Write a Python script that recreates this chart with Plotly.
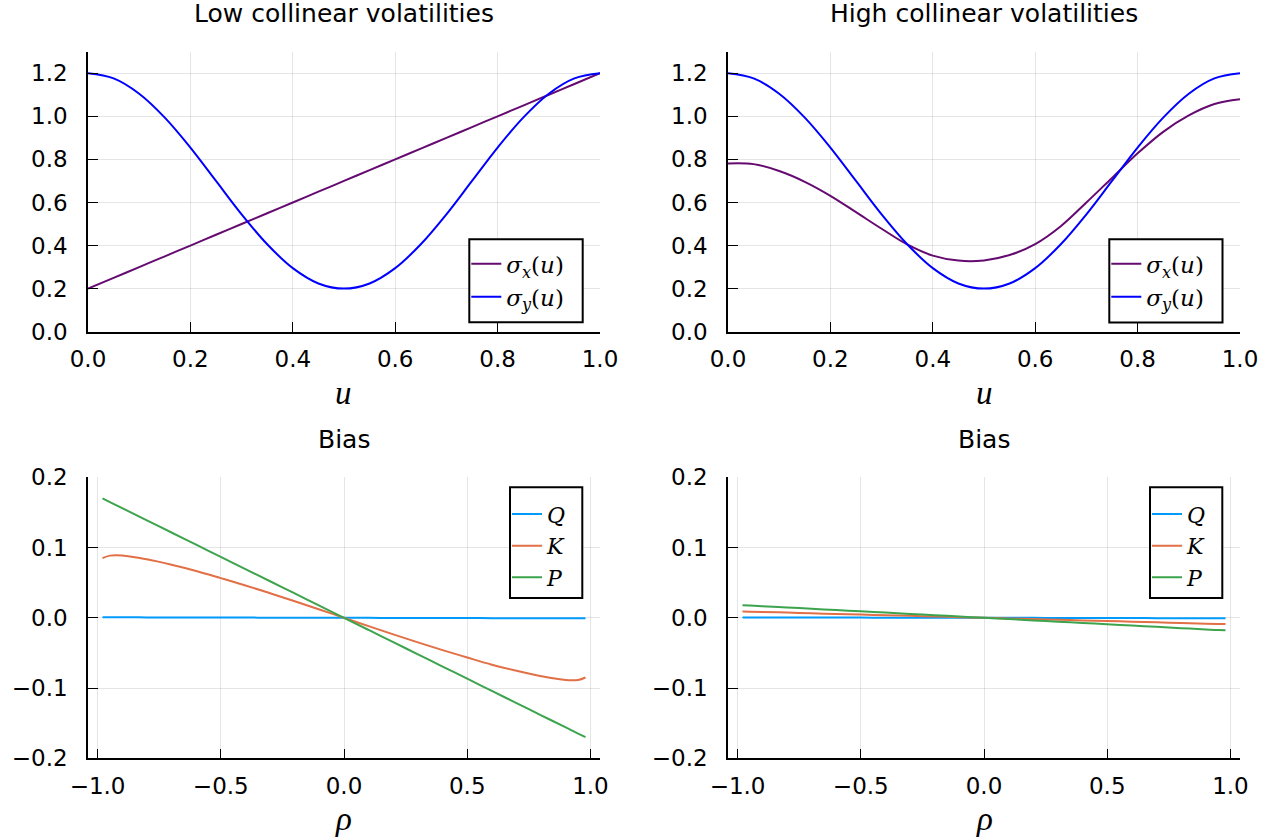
import plotly.graph_objects as go

# ---- volatility profiles over u in [0, 1] ----
u = [0.00, 0.05, 0.10, 0.15, 0.20, 0.25, 0.30, 0.35, 0.40, 0.45, 0.50,
     0.55, 0.60, 0.65, 0.70, 0.75, 0.80, 0.85, 0.90, 0.95, 1.00]

sigma_y = [1.200, 1.176, 1.105, 0.994, 0.855, 0.700, 0.545, 0.406, 0.295, 0.224, 0.200,
           0.224, 0.295, 0.406, 0.545, 0.700, 0.855, 0.994, 1.105, 1.176, 1.200]

sigma_x_low = [0.20, 0.25, 0.30, 0.35, 0.40, 0.45, 0.50, 0.55, 0.60, 0.65, 0.70,
               0.75, 0.80, 0.85, 0.90, 0.95, 1.00, 1.05, 1.10, 1.15, 1.20]

sigma_x_high = [0.781, 0.778, 0.746, 0.696, 0.631, 0.555, 0.478, 0.405, 0.353, 0.330, 0.331,
                0.356, 0.407, 0.490, 0.600, 0.714, 0.828, 0.928, 1.004, 1.057, 1.079]

# ---- bias as a function of correlation rho ----
rho = [-0.98, -0.95, -0.90, -0.80, -0.70, -0.60, -0.50, -0.40, -0.30, -0.20, -0.10, 0.00,
       0.10, 0.20, 0.30, 0.40, 0.50, 0.60, 0.70, 0.80, 0.90, 0.95, 0.98]

bias_low_Q = [0.0008, 0.0008, 0.0007, 0.0006, 0.0006, 0.0005, 0.0004, 0.0003, 0.0002, 0.0002, 0.0001, 0.0,
              -0.0001, -0.0002, -0.0002, -0.0003, -0.0004, -0.0005, -0.0006, -0.0006, -0.0007, -0.0008, -0.0008]
bias_low_K = [0.0850, 0.0885, 0.0887, 0.0832, 0.0755, 0.0667, 0.0565, 0.0460, 0.0350, 0.0236, 0.0119, 0.0,
              -0.0119, -0.0236, -0.0350, -0.0460, -0.0565, -0.0667, -0.0755, -0.0832, -0.0887, -0.0885, -0.0850]
bias_low_P = [0.1700, 0.1648, 0.1561, 0.1388, 0.1214, 0.1041, 0.0867, 0.0694, 0.0520, 0.0347, 0.0173, 0.0,
              -0.0173, -0.0347, -0.0520, -0.0694, -0.0867, -0.1041, -0.1214, -0.1388, -0.1561, -0.1648, -0.1700]

bias_high_Q = [0.0006, 0.0006, 0.0006, 0.0005, 0.0004, 0.0004, 0.0003, 0.0002, 0.0002, 0.0001, 0.0001, 0.0,
               -0.0001, -0.0001, -0.0002, -0.0003, -0.0003, -0.0004, -0.0005, -0.0006, -0.0006, -0.0007, -0.0007]
bias_high_K = [0.0090, 0.0087, 0.0083, 0.0074, 0.0064, 0.0055, 0.0046, 0.0037, 0.0028, 0.0018, 0.0009, 0.0,
               -0.0009, -0.0018, -0.0028, -0.0037, -0.0046, -0.0055, -0.0064, -0.0074, -0.0083, -0.0087, -0.0090]
bias_high_P = [0.0180, 0.0175, 0.0166, 0.0147, 0.0129, 0.0110, 0.0092, 0.0074, 0.0055, 0.0037, 0.0018, 0.0,
               -0.0018, -0.0037, -0.0055, -0.0074, -0.0092, -0.0110, -0.0129, -0.0147, -0.0166, -0.0175, -0.0178]

vol_ticks = [0.0, 0.2, 0.4, 0.6, 0.8, 1.0, 1.2]
u_ticks = [0.0, 0.2, 0.4, 0.6, 0.8, 1.0]
bias_ticks = [-0.2, -0.1, 0.0, 0.1, 0.2]
rho_ticks = [-1.0, -0.5, 0.0, 0.5, 1.0]

titles = ["Low collinear volatilities", "High collinear volatilities", "Bias", "Bias"]

# ---- styling ----
W, H = 1275, 838
PURPLE = "#650a70"
BLUE = "#0000ff"
C_Q, C_K, C_P = "#009afa", "#e26f46", "#3da44d"
SANS = "DejaVu Sans"
SERIF = "Liberation Serif"
MATH = "DejaVu Serif"
LW = 2.0


def px(x):
    return x / W


def py(y):
    return 1 - y / H


# plot areas in pixels: (left, right), (top, bottom)
cols = [(88, 600), (728, 1240)]
rows = [(51.7, 331.7), (477.3, 758.3)]

fig = go.Figure()


def line(x, y, name, color, xa, ya, legend):
    fig.add_trace(go.Scatter(
        x=x, y=y, name=name, mode="lines",
        line=dict(color=color, width=LW, shape="spline", smoothing=1.0),
        xaxis=xa, yaxis=ya, legend=legend, hoverinfo="skip"))


sx_name = "<i>σ<sub>x</sub></i>(<i>u</i>)"
sy_name = "<i>σ<sub>y</sub></i>(<i>u</i>)"

line(u, sigma_x_low, sx_name, PURPLE, "x", "y", "legend")
line(u, sigma_y, sy_name, BLUE, "x", "y", "legend")
line(u, sigma_x_high, sx_name, PURPLE, "x2", "y2", "legend2")
line(u, sigma_y, sy_name, BLUE, "x2", "y2", "legend2")
line(rho, bias_low_Q, "<i>Q</i>", C_Q, "x3", "y3", "legend3")
line(rho, bias_low_K, "<i>K</i>", C_K, "x3", "y3", "legend3")
line(rho, bias_low_P, "<i>P</i>", C_P, "x3", "y3", "legend3")
line(rho, bias_high_Q, "<i>Q</i>", C_Q, "x4", "y4", "legend4")
line(rho, bias_high_K, "<i>K</i>", C_K, "x4", "y4", "legend4")
line(rho, bias_high_P, "<i>P</i>", C_P, "x4", "y4", "legend4")

axis_common = dict(
    showline=True, linecolor="black", linewidth=1.6, mirror=False,
    ticks="inside", ticklen=10, tickwidth=1.3, tickcolor="black",
    showgrid=True, gridcolor="rgba(0,0,0,0.1)", gridwidth=1,
    zeroline=False, automargin=False,
    tickfont=dict(family=SANS, size=23, color="black"),
)

layout = dict(
    width=W, height=H, autosize=False,
    margin=dict(l=0, r=0, t=0, b=0, autoexpand=False),
    paper_bgcolor="white", plot_bgcolor="white",
    showlegend=True,
)

panels = [
    ("xaxis", "yaxis", cols[0], rows[0], [0, 1], [0, 1.3], u_ticks, vol_ticks),
    ("xaxis2", "yaxis2", cols[1], rows[0], [0, 1], [0, 1.3], u_ticks, vol_ticks),
    ("xaxis3", "yaxis3", cols[0], rows[1], [-1.0388, 1.0388], [-0.2, 0.2], rho_ticks, bias_ticks),
    ("xaxis4", "yaxis4", cols[1], rows[1], [-1.0388, 1.0388], [-0.2, 0.2], rho_ticks, bias_ticks),
]
for i, (xk, yk, (l, r), (t, b), xr, yr, xt, yt) in enumerate(panels):
    suffix = "" if i == 0 else str(i + 1)
    layout[xk] = dict(axis_common, domain=[px(l), px(r)], range=xr, tickvals=xt,
                      tickformat=".1f", anchor="y" + suffix, ticklabelstandoff=6)
    layout[yk] = dict(axis_common, domain=[py(b), py(t)], range=yr, tickvals=yt,
                      tickformat=".1f", anchor="x" + suffix, ticklabelstandoff=14)

# legends: transparent, drawn on top of framed boxes
legend_boxes = [
    ("legend", (469.3, 582.7), (239.3, 322.3), 23, 3),
    ("legend2", (1109.3, 1222.5), (239.3, 322.5), 23, 3),
    ("legend3", (510.0, 582.3), (487.3, 598.0), 22, 6),
    ("legend4", (1150.0, 1222.3), (487.3, 598.0), 22, 6),
]
shapes = []
for key, (bl, br), (bt, bb), fsize, pad in legend_boxes:
    shapes.append(dict(type="rect", xref="paper", yref="paper",
                       x0=px(bl), x1=px(br), y0=py(bb), y1=py(bt),
                       line=dict(color="black", width=2), fillcolor="white", layer="above"))
    layout[key] = dict(
        x=px(bl - 3), y=py(bt + pad), xanchor="left", yanchor="top",
        bgcolor="rgba(0,0,0,0)", borderwidth=0,
        font=dict(family=MATH, size=fsize, color="black"),
        tracegroupgap=0,
    )
layout["shapes"] = shapes

annotations = []
for i, ((l, r), (t, b)) in enumerate([(cols[0], rows[0]), (cols[1], rows[0]),
                                        (cols[0], rows[1]), (cols[1], rows[1])]):
    annotations.append(dict(text=titles[i], xref="paper", yref="paper",
                            x=px((l + r) / 2), y=py(t - 38), xanchor="center", yanchor="middle",
                            showarrow=False, font=dict(family=SANS, size=25, color="black")))
    label = "<i>u</i>" if i < 2 else "<i>ρ</i>"
    annotations.append(dict(text=label, xref="paper", yref="paper",
                            x=px((l + r) / 2), y=py(b + 61), xanchor="center", yanchor="middle",
                            showarrow=False, font=dict(family=SERIF, size=33, color="black")))
layout["annotations"] = annotations

fig.update_layout(**layout)
fig.write_html("out.html")
